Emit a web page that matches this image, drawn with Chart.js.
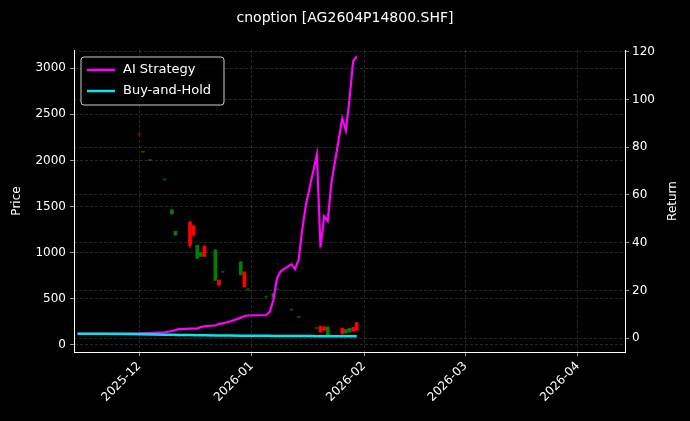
<!DOCTYPE html>
<html>
<head>
<script src="https://cdn.jsdelivr.net/npm/chart.js@4"></script>
<style>html,body{margin:0;background:#000}</style>
</head>
<body>
<canvas id="c" width="690" height="421" style="width:690px;height:421px"></canvas>
<script>
var candleDates = ['2025-12-01','2025-12-02','2025-12-04','2025-12-08','2025-12-10','2025-12-11','2025-12-15','2025-12-16','2025-12-17','2025-12-18','2025-12-19','2025-12-22','2025-12-23','2025-12-24','2025-12-29','2025-12-30','2025-12-31','2026-01-05','2026-01-07','2026-01-08','2026-01-12','2026-01-14','2026-01-19','2026-01-20','2026-01-21','2026-01-22','2026-01-26','2026-01-27','2026-01-28','2026-01-29','2026-01-30'];
var opens  = [2280,2090,2000,1790,1420,1190,1330,1290,940,960,1070,700,700,790,760,790,600,520,520,600,380,300,180,200,195,100,180,130,140,190,240];
var highs  = [2285,2095,2005,1795,1470,1230,1340,1300,1080,1000,1075,1030,705,795,900,795,605,525,560,605,385,305,185,205,200,195,185,170,180,195,245];
var lows   = [2270,2085,1995,1785,1420,1190,1060,1180,940,960,955,700,640,785,760,630,595,515,520,595,375,295,175,140,160,100,120,130,140,150,160];
var closes = [2275,2090,2000,1790,1460,1230,1080,1190,1080,1000,960,1030,650,790,900,630,600,520,560,600,380,300,180,140,160,195,120,170,180,150,160];

var lineDates = ['2025-11-14','2025-11-21','2025-11-28','2025-12-01','2025-12-05','2025-12-08','2025-12-10','2025-12-12','2025-12-15','2025-12-17','2025-12-18','2025-12-19','2025-12-22','2025-12-23','2025-12-24','2025-12-26','2025-12-29','2025-12-30','2025-12-31','2026-01-02','2026-01-05','2026-01-06','2026-01-07','2026-01-08','2026-01-09','2026-01-12','2026-01-13','2026-01-14','2026-01-15','2026-01-16','2026-01-19','2026-01-20','2026-01-21','2026-01-22','2026-01-23','2026-01-26','2026-01-27','2026-01-28','2026-01-29','2026-01-30'];
var aiReturn = [1.8,1.8,1.9,2.0,2.2,2.4,3.0,3.8,4.0,4.0,4.6,5.0,5.3,6.0,6.2,7.0,8.5,9.3,9.5,9.6,9.7,11,16,25,28,31,29,33,46,56,77,38,51,49,65,92,87,100,116,118];
var bhReturn = [1.8,1.8,1.7,1.6,1.5,1.4,1.4,1.3,1.3,1.2,1.2,1.2,1.1,1.1,1.1,1.1,1.0,1.0,1.0,1.0,1.0,1.0,0.9,0.9,0.9,0.9,0.9,0.9,0.9,0.9,0.8,0.8,0.8,0.8,0.8,0.8,0.8,0.8,0.8,0.8];

var monthTicks = ['2025-12-01','2026-01-01','2026-02-01','2026-03-01','2026-04-01'];
var priceTicks = [0,500,1000,1500,2000,2500,3000];
var returnTicks = [0,20,40,60,80,100,120];

function ms(d) { var p = d.split('-'); return Date.UTC(+p[0], +p[1] - 1, +p[2]); }

var wicks = [], bodies = [], colors = [];
for (var i = 0; i < candleDates.length; i++) {
  var x = ms(candleDates[i]);
  wicks.push({x: x, y: [lows[i], highs[i]]});
  var o = opens[i], c = closes[i];
  var doji = Math.abs(o - c) < 10;
  if (doji) c = o + 10;
  bodies.push({x: x, y: [o, c]});
  var col = closes[i] >= opens[i] ? '#008000' : '#ff0000';
  colors.push(doji ? (col == '#008000' ? 'rgba(0,128,0,0.6)' : 'rgba(255,0,0,0.5)') : col);
}
var aiPts = lineDates.map(function(d, i){ return {x: ms(d), y: aiReturn[i]}; });
var bhPts = lineDates.map(function(d, i){ return {x: ms(d), y: bhReturn[i]}; });

var font = {size: 12, family: 'DejaVu Sans'};
function grid() { return {color: 'rgba(128,128,128,0.5)', lineWidth: 0.6, tickColor: '#fff', tickLength: 4, offset: false}; }
function border() { return {color: '#fff', dash: [3, 2]}; }

var titleAndLegend = {
  id: 'titleAndLegend',
  afterDraw: function(chart) {
    var ctx = chart.ctx, a = chart.chartArea;
    var mid = (a.top + a.bottom) / 2;
    ctx.save();
    ctx.fillStyle = '#fff';
    ctx.font = '14px "DejaVu Sans"';
    ctx.textAlign = 'center';
    ctx.textBaseline = 'middle';
    ctx.fillText('cnoption [AG2604P14800.SHF]', 345, 18);
    // axis titles, reading bottom to top
    ctx.font = '12px "DejaVu Sans"';
    [[17, 'Price'], [673, 'Return']].forEach(function(t) {
      ctx.save();
      ctx.translate(t[0], mid);
      ctx.rotate(-Math.PI / 2);
      ctx.fillText(t[1], 0, 0);
      ctx.restore();
    });
    // legend
    var x = a.left + 7, y = a.top + 7;
    ctx.fillStyle = 'rgba(0,0,0,0.8)';
    ctx.strokeStyle = '#ccc';
    ctx.lineWidth = 1;
    ctx.beginPath();
    ctx.roundRect(x, y, 143, 48, 3);
    ctx.fill(); ctx.stroke();
    var items = [[chart.data.datasets[2].label, '#ff00ff'], [chart.data.datasets[3].label, '#00e5ee']];
    ctx.font = '13px "DejaVu Sans"';
    ctx.textAlign = 'left';
    items.forEach(function(it, k) {
      var yy = y + 13 + k * 21;
      ctx.strokeStyle = it[1]; ctx.lineWidth = 2.5;
      ctx.beginPath(); ctx.moveTo(x + 6, yy); ctx.lineTo(x + 34, yy); ctx.stroke();
      ctx.fillStyle = '#fff';
      ctx.fillText(it[0], x + 42, yy);
    });
    ctx.restore();
  }
};

new Chart(document.getElementById('c'), {
  type: 'bar',
  data: {
    datasets: [
      {label: 'wick', data: wicks, backgroundColor: colors, barThickness: 1, grouped: false, yAxisID: 'y', order: 3},
      {label: 'body', data: bodies, backgroundColor: colors, barThickness: 3, grouped: false, yAxisID: 'y', order: 2},
      {type: 'line', label: 'AI Strategy', data: aiPts, borderColor: '#ff00ff', borderWidth: 2.2, pointRadius: 0, yAxisID: 'y1', order: 1},
      {type: 'line', label: 'Buy-and-Hold', data: bhPts, borderColor: '#00e5ee', borderWidth: 2.5, pointRadius: 0, yAxisID: 'y1', order: 0}
    ]
  },
  options: {
    responsive: false,
    animation: false,
    layout: {padding: {top: 50}},
    plugins: {legend: {display: false}, tooltip: {enabled: false}},
    scales: {
      x: {
        type: 'linear',
        min: ms('2025-11-13'), max: ms('2026-04-14'),
        offset: false,
        grid: grid(),
        border: border(),
        afterBuildTicks: function(s) { s.ticks = monthTicks.map(function(d){ return {value: ms(d)}; }); },
        afterFit: function(s) { s.height = 69; },
        ticks: {
          color: '#fff', font: font, maxRotation: 45, minRotation: 45,
          callback: function(v) { var d = new Date(v); return d.getUTCFullYear() + '-' + String(d.getUTCMonth() + 1).padStart(2, '0'); }
        }
      },
      y: {
        position: 'left', min: -76, max: 3196,
        grid: grid(),
        border: border(),
        afterBuildTicks: function(s) { s.ticks = priceTicks.map(function(v){ return {value: v}; }); },
        afterFit: function(s) { s.width = 74; },
        ticks: {color: '#fff', font: font, padding: 4, callback: function(v) { return String(v); }}
      },
      y1: {
        position: 'right', min: -5.8, max: 120.7,
        grid: grid(),
        border: border(),
        afterBuildTicks: function(s) { s.ticks = returnTicks.map(function(v){ return {value: v}; }); },
        afterFit: function(s) { s.width = 65; },
        ticks: {color: '#fff', font: font, callback: function(v) { return String(v); }}
      }
    }
  },
  plugins: [titleAndLegend]
});
</script>
</body>
</html>
